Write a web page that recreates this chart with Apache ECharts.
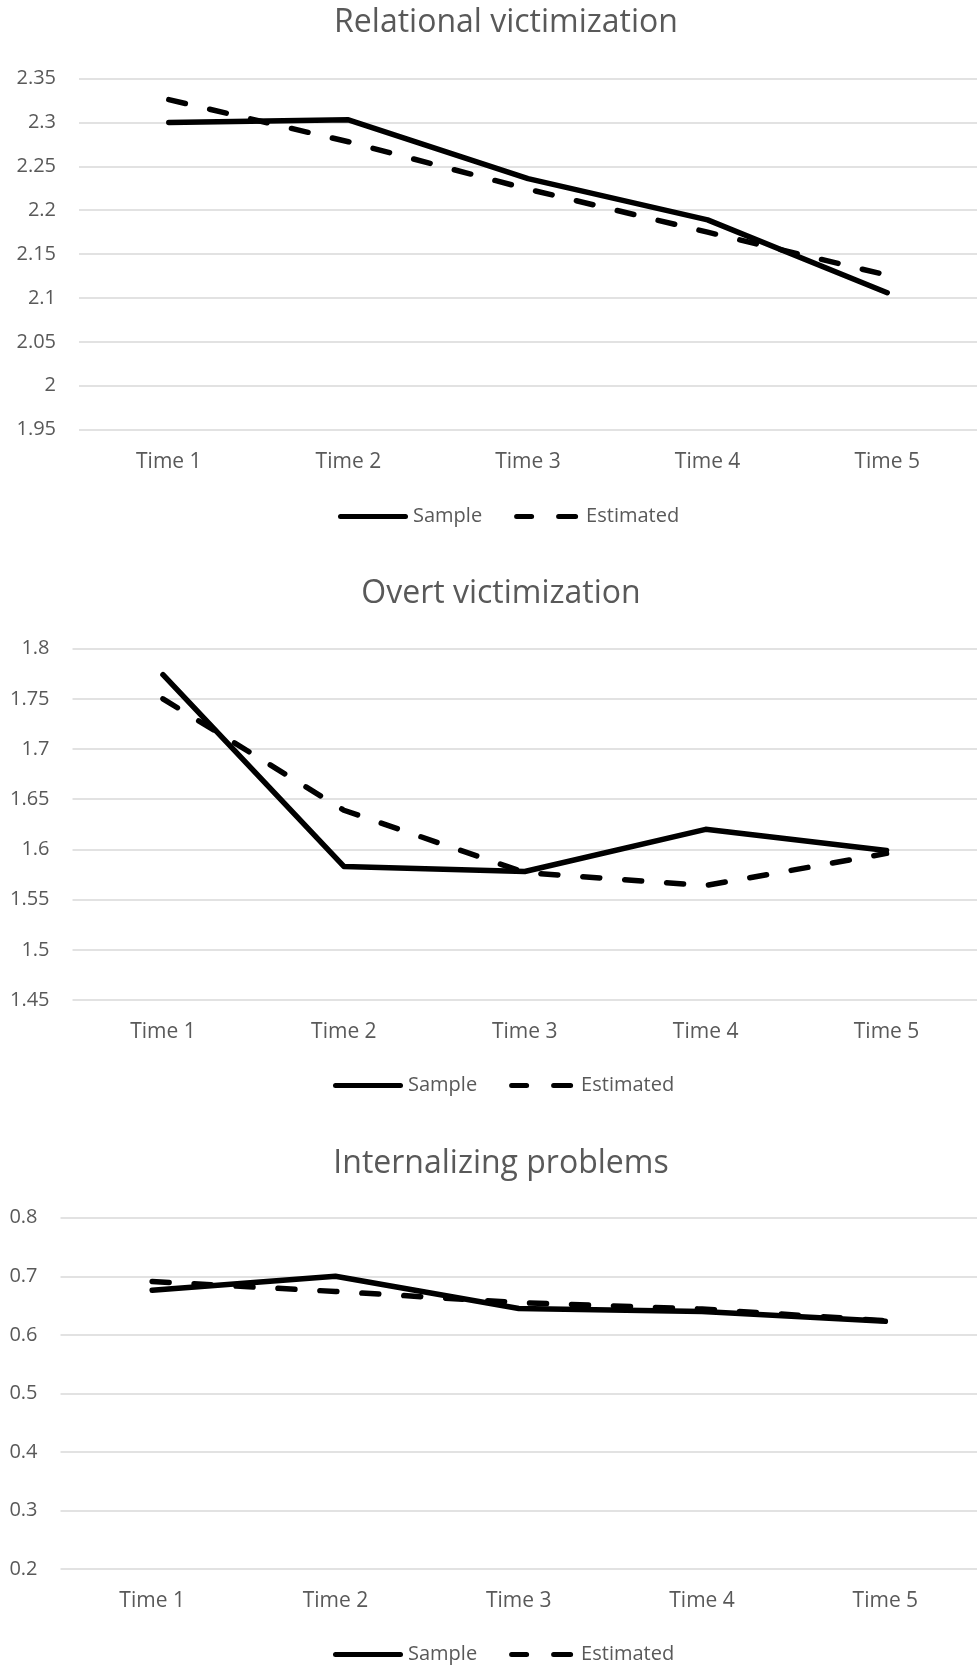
<!DOCTYPE html>
<html>
<head>
<meta charset="utf-8">
<script src="https://cdn.jsdelivr.net/npm/echarts@6/dist/echarts.min.js"></script>
<style>
html,body{margin:0;padding:0;background:#fff;}
#c{width:977px;height:1667px;}
</style>
</head>
<body>
<div id="c"></div>
<script>
const categories = ['Time 1', 'Time 2', 'Time 3', 'Time 4', 'Time 5'];
const seriesNames = ['Sample', 'Estimated'];
const titles = ['Relational victimization', 'Overt victimization', 'Internalizing problems'];

const relSample = [2.300, 2.303, 2.236, 2.189, 2.106];
const relEstimated = [2.326, 2.278, 2.224, 2.175, 2.126];
const overtSample = [1.774, 1.583, 1.578, 1.620, 1.599];
const overtEstimated = [1.750, 1.639, 1.577, 1.564, 1.596];
const intSample = [0.676, 0.700, 0.645, 0.640, 0.623];
const intEstimated = [0.691, 0.674, 0.655, 0.644, 0.624];

const yMin = [1.95, 1.45, 0.2];
const yMax = [2.35, 1.8, 0.8];
const yStep = [0.05, 0.05, 0.1];

const panelData = [[relSample, relEstimated], [overtSample, overtEstimated], [intSample, intEstimated]];

// layout (pixels)
const gridBoxes = [
  {left: 79, top: 78.6, width: 907, height: 351},
  {left: 72.5, top: 648.6, width: 908.5, height: 351.4},
  {left: 60.5, top: 1217.7, width: 921.5, height: 351.3}
];
const titleCenters = [[506, 7], [501, 578], [501, 1148]];
const legendPos = [[338, 506.5], [333, 1075.5], [333, 1644.5]];

const FONT = 'Open Sans';
const GREY = '#595959';
const ICONS = [
  'path://M2.5,0H67.5A2.5,2.5,0,0,1,67.5,5H2.5A2.5,2.5,0,0,1,2.5,0Z',
  'path://M2.5,0H17.5A2.5,2.5,0,0,1,17.5,5H2.5A2.5,2.5,0,0,1,2.5,0Z M44.5,0H61.5A2.5,2.5,0,0,1,61.5,5H44.5A2.5,2.5,0,0,1,44.5,0Z'
];

const option = {
  animation: false,
  backgroundColor: '#fff',
  title: titles.map((t, i) => ({
    text: t,
    left: titleCenters[i][0],
    top: titleCenters[i][1],
    textAlign: 'center',
    padding: 0,
    textStyle: {fontFamily: FONT, fontSize: 32, fontWeight: 'normal', color: GREY}
  })),
  legend: titles.map((t, i) => ({
    data: seriesNames.map((n, k) => ({name: n + '#' + i, icon: ICONS[k], itemStyle: {color: '#000'}})),
    left: legendPos[i][0],
    top: legendPos[i][1],
    padding: 0,
    itemWidth: 70,
    itemHeight: 5,
    itemGap: 32,
    selectedMode: false,
    textStyle: {fontFamily: FONT, fontSize: 20, color: GREY},
    formatter: n => n.split('#')[0]
  })),
  grid: gridBoxes.map(b => Object.assign({containLabel: false}, b)),
  xAxis: gridBoxes.map((b, i) => ({
    type: 'category',
    gridIndex: i,
    data: categories,
    boundaryGap: true,
    axisLine: {show: false},
    axisTick: {show: false},
    axisLabel: {fontFamily: FONT, fontSize: 21, color: GREY, margin: 22}
  })),
  yAxis: gridBoxes.map((b, i) => ({
    type: 'value',
    gridIndex: i,
    min: yMin[i],
    max: yMax[i],
    interval: yStep[i],
    axisLine: {show: false},
    axisTick: {show: false},
    axisLabel: {fontFamily: FONT, fontSize: 20, color: GREY, margin: 23},
    splitLine: {show: true, lineStyle: {color: '#d9d9d9', width: 1.5}}
  })),
  series: []
};

panelData.forEach((pair, i) => {
  pair.forEach((vals, k) => {
    option.series.push({
      name: seriesNames[k] + '#' + i,
      type: 'line',
      xAxisIndex: i,
      yAxisIndex: i,
      data: vals,
      symbol: 'none',
      lineStyle: k === 0
        ? {color: '#000', width: 5.5, cap: 'round', join: 'round'}
        : {color: '#000', width: 5.5, type: [17, 25], cap: 'round', join: 'round'},
      itemStyle: {color: '#000'},
      z: k === 0 ? 3 : 2
    });
  });
});

const chart = echarts.init(document.getElementById('c'), null, {renderer: 'canvas'});
chart.setOption(option);
</script>
</body>
</html>
